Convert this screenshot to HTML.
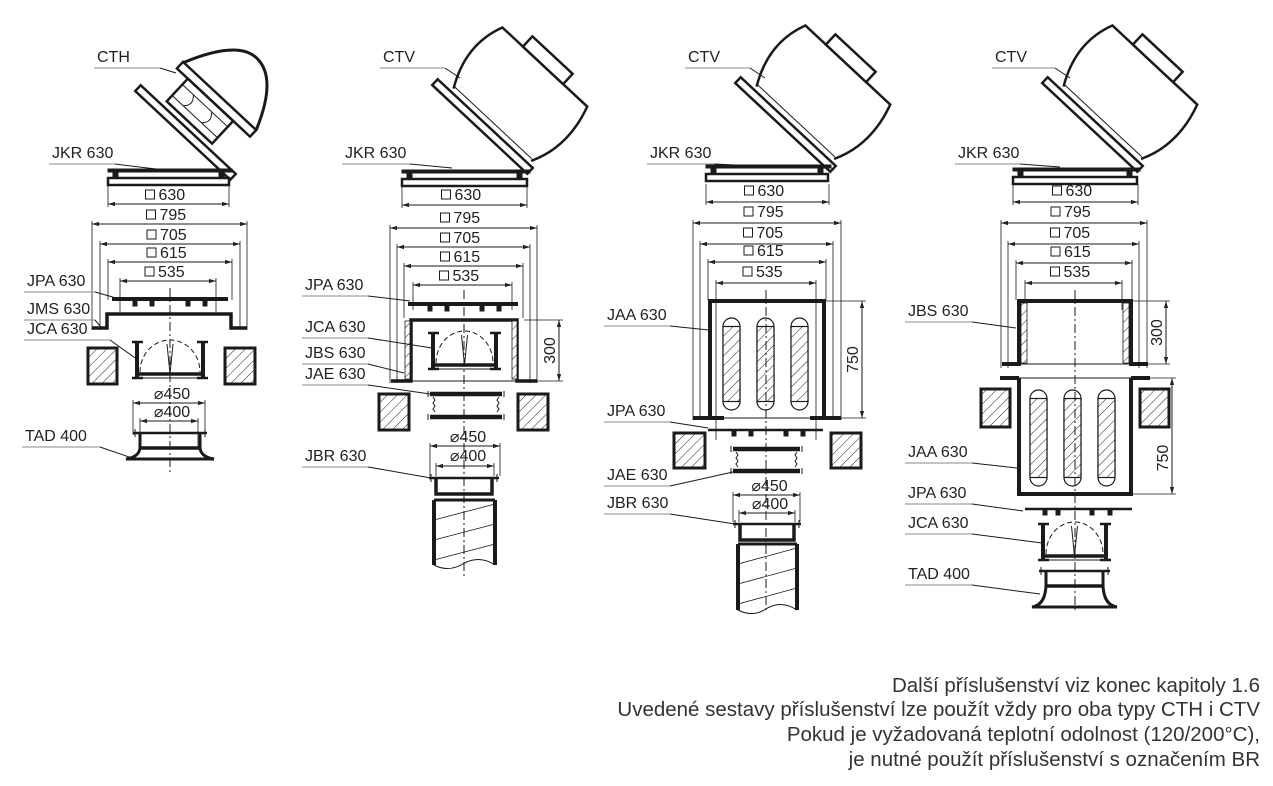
<!DOCTYPE html>
<html><head><meta charset="utf-8"><style>
html,body{margin:0;padding:0;background:#fff;}
svg{display:block;}
text{font-family:"Liberation Sans",Arial,sans-serif;fill:#222;}
</style></head><body>
<svg id="s" width="1273" height="786" viewBox="0 0 1273 786" xmlns="http://www.w3.org/2000/svg">
<defs>
<pattern id="h" patternUnits="userSpaceOnUse" width="7" height="7" patternTransform="rotate(45)">
<rect width="7" height="7" fill="#fff"/><line x1="0" y1="0" x2="0" y2="7" stroke="#222" stroke-width="1"/></pattern>
<marker id="a" viewBox="0 0 10 10" refX="10" refY="5" markerWidth="7" markerHeight="7" orient="auto-start-reverse"><path d="M0,2 L10,5 L0,8" fill="#222"/></marker>
</defs>
<g id="g" stroke="#1a1a1a" fill="none"></g>
<g font-size="20.5">
<text x="1260" y="692" text-anchor="end" style="fill:#333">Další příslušenství viz konec kapitoly 1.6</text>
<text x="1260" y="716" text-anchor="end" style="fill:#333">Uvedené sestavy příslušenství lze použít vždy pro oba typy CTH i CTV</text>
<text x="1260" y="741" text-anchor="end" style="fill:#333">Pokud je vyžadovaná teplotní odolnost (120/200°C),</text>
<text x="1260" y="766" text-anchor="end" style="fill:#333">je nutné použít příslušenství s označením BR</text>
</g>
</svg>
<script>
var o='';
function L(x1,y1,x2,y2,w,extra){o+='<line x1="'+x1+'" y1="'+y1+'" x2="'+x2+'" y2="'+y2+'" stroke-width="'+(w||1)+'" '+(extra||'')+'/>';}
function P(d,w,f,extra){o+='<path d="'+d+'" stroke-width="'+(w||1)+'" fill="'+(f||'none')+'" '+(extra||'')+'/>';}
function R(x,y,w,h,sw,f){o+='<rect x="'+x+'" y="'+y+'" width="'+w+'" height="'+h+'" stroke-width="'+sw+'" fill="'+(f||'none')+'"/>';}
function T(x,y,s,sz,anc,tr){o+='<text x="'+x+'" y="'+y+'" font-size="'+(sz||16)+'" stroke="none" text-anchor="'+(anc||'start')+'"'+(tr?' transform="'+tr+'"':'')+'>'+s+'</text>';}
function dimH(x1,x2,y,lab,ty,sq){L(x1,y,x2,y,1,'marker-start="url(#a)" marker-end="url(#a)"');var c=(x1+x2)/2;
 if(sq){o+='<rect x="'+(c-23)+'" y="'+(ty-10)+'" width="9" height="9" stroke-width="1"/>';T(c-10,ty,lab,16);}
 else T(c+3,ty,'⌀'+lab,16,'middle');}
function dimV(x,y1,y2,lab,tc){L(x,y1,x,y2,1,'marker-start="url(#a)" marker-end="url(#a)"');var c=tc||(y1+y2)/2;T(x-4,c,lab,16,'middle','rotate(-90 '+(x-4)+' '+c+')');}
function lab(x,y,s,ux,tx,ty){T(x,y,s,16);L(x-3,y+6,ux,y+6,1,'stroke="#888"');L(ux,y+6,tx,ty,1);}
function wall(x,y,w,h){R(x,y,w,h,3,'url(#h)');}
function cl(x,y1,y2){L(x,y1,x,y2,1,'stroke-dasharray="9 3 2 3"');}
function jkr(x1,x2,y){R(x1,y,x2-x1,3,1,'#1a1a1a');R(x1+5,y+3,5,6,1,'#1a1a1a');R(x2-13,y+3,5,6,1,'#1a1a1a');R(x1,y+9,x2-x1-3,7,2.5);}
function dims(cx,a,ys,ends){var labs=['630','795','705','615','535'];
 for(var i=0;i<5;i++){var x1=a[i][0],x2=a[i][1];dimH(x1,x2,ys[i][1],labs[i],ys[i][0],1);
  if(i>0){L(x1,ys[i][1]-3,x1,ends[i],0.8);L(x2,ys[i][1]-3,x2,ends[i],0.8);} else {L(x1,ys[i][1]-18,x1,ys[i][1]+3,0.8);L(x2,ys[i][1]-18,x2,ys[i][1]+3,0.8);}}}
function teeth(xs,y){xs.forEach(function(x){R(x-2,y,4,5,1,'#1a1a1a');});}
function jca(x1,x2,y1,y2){var c=(x1+x2)/2;L(x1,y1,x1,y2,4);L(x2,y1,x2,y2,4);L(x1-5,y1,x1+6,y1,2.5);L(x2-6,y1,x2+5,y1,2.5);L(x1-5,y2,x1+6,y2,2.5);L(x2-6,y2,x2+5,y2,2.5);
 L(x1,y2-4,x2,y2-4,3.5);L(x1,y2,x2,y2,1);var r=(x2-x1)/2-3;P('M'+(c-r)+','+(y2-6)+' A'+r+','+(y2-y1-4)+' 0 0 1 '+(c+r)+','+(y2-6),1,'none','stroke-dasharray="5 3"');
 P('M'+(c-3)+','+(y1+2)+' L'+c+','+(y2-4)+' L'+(c+3)+','+(y1+2),1);}
function jae(x1,x2,y1,y2){L(x1,y1,x2,y1,4.5);L(x1,y2,x2,y2,4.5);L(x1-2,y1-3,x1-2,y1+3,1);L(x2+2,y1-3,x2+2,y1+3,1);L(x1-2,y2-3,x1-2,y2+3,1);L(x2+2,y2-3,x2+2,y2+3,1);
 var d1='M'+(x1+3)+','+(y1+3),d2='M'+(x2-3)+','+(y1+3),k=0;for(var y=y1+3;y<y2-5;y+=3){var s=(k++%2)?-2:2;d1+=' l'+s+',3';d2+=' l'+(-s)+',3';}P(d1,1);P(d2,1);}
function jbr(x1,x2,y){L(x1-4,y,x2+4,y,2.5);L(x1-2,y-4,x1-2,y+4,1);L(x2+2,y-4,x2+2,y+4,1);P('M'+(x1+3)+','+y+' V'+(y+16)+' H'+(x2-3)+' V'+y,3.5);}
function duct(x1,x2,y1,y2){L(x1,y1,x2,y1,3);L(x1,y1,x1,y2,4);L(x2,y1,x2,y2,4);var m=(x1+x2)/2;P('M'+x1+','+y2+' Q'+(x1+15)+','+(y2+8)+' '+m+','+(y2-2)+' Q'+(x2-15)+','+(y2-10)+' '+x2+','+y2,1);
 for(var k=0;k<3;k++){var yy=y1+12+k*20;L(x1,yy+8,x2,yy-8,0.8);}}
function tad(x1,x2,y,yb){L(x1-4,y,x2+4,y,2.5);L(x1-2,y-4,x1-2,y+4,1);L(x2+2,y-4,x2+2,y+4,1);L(x1+3,y,x1+3,y+15,3);L(x2-3,y,x2-3,y+15,3);L(x1+3,y+15,x2-3,y+15,3.5);
 P('M'+(x1+3)+','+(y+15)+' Q'+(x1+2)+','+(yb-2)+' '+(x1-11)+','+yb+' H'+(x2+11)+' Q'+(x2-2)+','+(yb-2)+' '+(x2-3)+','+(y+15),3);}
function slot(x,y1,y2){var w=17,r=w/2;o+='<path d="M'+x+','+(y1+r)+' A'+r+','+r+' 0 0 1 '+(x+w)+','+(y1+r)+' V'+(y2-r)+' A'+r+','+r+' 0 0 1 '+x+','+(y2-r)+' Z" stroke-width="1.2" fill="none"/>';R(x,y1+r,w,y2-y1-2*r,1.2,'url(#h)');}
function fan(tx,ty,cth){o+='<g transform="translate('+tx+','+ty+') rotate(43)">';
 R(0,-1,130,8,2.5);
 if(cth){R(30,-38,62,31,2.5);L(30,-30,92,-30,1);L(30,-15,92,-15,1);P('M45,-30 q8,8 0,15 M70,-30 q8,8 0,15',1);
  R(15,-47,100,9,2.5);P('M16,-47 Q40,-100 66,-100 Q95,-100 115,-47',3);}
 else{L(18,-7,123,-7,1);P('M18,-5 Q-4,-45 12,-83 L128,-83 Q142,-40 124,-5',2.5);R(40,-97,55,14,2.5,'#fff');}
 o+='</g>';}

/* ===== column 1 ===== */
lab(97,62,'CTH',160,176,73);fan(140,86,1);
lab(52,158,'JKR 630',115,156,169);jkr(108,232,169);
dims(170,[[108,229],[92,247],[100,240],[108,232],[120,216]],[[200,204],[220,224],[240,244],[258,262],[277,281]],[0,330,330,300,312]);
lab(27,286,'JPA 630',95,116,298);L(112,299,228,299,4);teeth([135,152,188,205],301);
lab(27,314,'JMS 630',95,100,326);P('M92,328 H107 V314 H231 V328 H247',3.5);
lab(27,334,'JCA 630',110,138,360);
wall(88,348,29,36);wall(225,348,30,36);
jca(137,203,342,378);
dimH(133,205,403,'450',399);dimH(140,198,421,'400',417);L(133,400,133,435,0.8);L(205,400,205,435,0.8);L(140,418,140,448,0.8);L(198,418,198,448,0.8);
lab(25,441,'TAD 400',100,132,458);tad(137,203,433,459);
cl(170,288,472);

/* ===== column 2 ===== */
lab(383,62,'CTV',445,460,78);fan(437,80,0);
lab(345,158,'JKR 630',410,452,168);jkr(402,530,170);
dims(466,[[402,527],[390,537],[397,530],[404,523],[413,512]],[[200,205],[223,228],[243,247],[262,266],[281,285]],[0,383,383,318,310]);
lab(305,290,'JPA 630',368,410,301);L(408,304,518,304,4);teeth([430,447,482,499],306);
P('M391,381 H411 V320 H517 V381 H537',3.5);R(405,321,5,58,0.8,'url(#h)');R(512,321,5,58,0.8,'url(#h)');L(411,381,517,381,1);
L(524,320,563,320,0.8);L(537,381,563,381,0.8);dimV(559,320,381,'300');
lab(305,332,'JCA 630',368,432,348);jca(433,496,333,369);
lab(305,358,'JBS 630',368,404,373);
lab(305,379,'JAE 630',368,430,394);jae(430,502,394,417);
wall(379,394,30,36);wall(518,394,30,36);
dimH(430,500,446,'450',442);dimH(436,494,466,'400',461);L(430,443,430,476,0.8);L(500,443,500,476,0.8);L(436,463,436,476,0.8);L(494,463,494,476,0.8);
lab(305,461,'JBR 630',368,431,478);jbr(433,495,478);duct(434,495,500,565);
cl(464,290,578);

/* ===== column 3 ===== */
lab(688,62,'CTV',750,765,78);fan(740,78,0);
lab(650,158,'JKR 630',715,755,166);jkr(706,831,165);
dims(768,[[706,829],[693,841],[700,833],[708,826],[716,816]],[[196,202],[217,223],[238,244],[256,262],[277,283]],[0,420,420,300,440]);
lab(607,320,'JAA 630',670,709,330);
P('M693,418 H710 V301 H824 V418 H841',4);L(710,418,724,418,4);L(810,418,824,418,4);L(710,418,824,418,1);
slot(723,318,410);slot(757,318,410);slot(791,318,410);
L(826,301,866,301,0.8);L(841,418,866,418,0.8);dimV(862,301,418,'750');
lab(607,416,'JPA 630',670,708,428);L(708,430,823,430,2.5);teeth([734,751,786,803],431);
wall(674,433,31,35);wall(831,433,30,35);
lab(607,480,'JAE 630',670,733,472);jae(733,800,449,471);
dimH(733,800,495,'450',491);dimH(739,795,513,'400',509);L(733,492,733,522,0.8);L(800,492,800,522,0.8);L(739,510,739,522,0.8);L(795,510,795,522,0.8);
lab(607,508,'JBR 630',670,735,524);jbr(737,797,524);duct(738,797,544,610);
cl(766,290,612);

/* ===== column 4 ===== */
lab(995,62,'CTV',1055,1070,78);fan(1047,78,0);
lab(958,158,'JKR 630',1020,1060,167);jkr(1013,1140,168);
dims(1075,[[1013,1138],[1001,1147],[1008,1139],[1016,1132],[1025,1122]],[[196,202],[217,223],[238,244],[257,263],[277,283]],[0,368,368,300,310]);
lab(908,316,'JBS 630',972,1016,328);
P('M1002,364 H1019 V301 H1131 V364 H1148',4);R(1021,303,6,60,0.8,'url(#h)');R(1123,303,6,60,0.8,'url(#h)');L(1019,364,1131,364,1);
L(1133,301,1170,301,0.8);L(1148,364,1170,364,0.8);dimV(1166,301,364,'300');
L(1000,378,1019,378,4);L(1131,378,1150,378,4);P('M1019,378 V494 H1131 V378',4);L(1019,378,1131,378,1);
L(1150,378,1176,378,0.8);L(1133,494,1176,494,0.8);dimV(1172,378,494,'750',458);
wall(981,389,29,38);wall(1140,389,29,38);
slot(1030,390,486);slot(1064,390,486);slot(1098,390,486);
lab(908,457,'JAA 630',972,1017,468);
lab(908,498,'JPA 630',972,1023,511);L(1025,509,1132,509,2.5);teeth([1045,1058,1092,1110],510);
lab(908,528,'JCA 630',972,1042,543);jca(1043,1106,524,560);
lab(908,579,'TAD 400',972,1040,594);tad(1043,1106,571,607);
cl(1075,290,612);

document.getElementById('g').innerHTML=o;
</script>
</body></html>
